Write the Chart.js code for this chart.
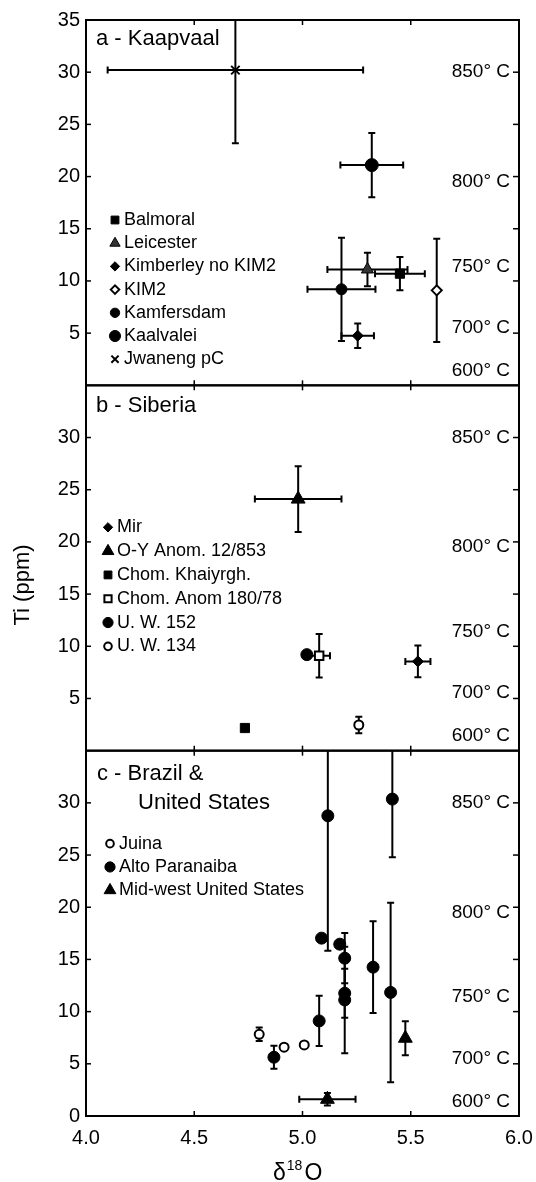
<!DOCTYPE html>
<html>
<head>
<meta charset="utf-8">
<script src="https://cdn.jsdelivr.net/npm/chart.js@4/dist/chart.umd.min.js"></script>
<style>
  html, body { margin: 0; padding: 0; background: #fff; }
  canvas { display: block; }
</style>
</head>
<body>
<canvas id="chart" width="536" height="1182"></canvas>
<script>
// Ti (ppm) vs d18O, three stacked panels sharing one x axis.

// --- axis ticks -----------------------------------------------------------
const X_TICKS = [4.0, 4.5, 5.0, 5.5, 6.0];
const Y_TICKS_A = [5, 10, 15, 20, 25, 30, 35];
const Y_TICKS_B = [5, 10, 15, 20, 25, 30];
const Y_TICKS_C = [0, 5, 10, 15, 20, 25, 30];
const MINOR_TICKS = [5, 10, 15, 20, 25, 30];

// temperature labels on the right edge and the Ti value they sit at
const TEMP_LABELS = ['850° C', '800° C', '750° C', '700° C', '600° C'];
const TEMP_TI = [30, 19.5, 11.4, 5.5, 1.4];

// --- a - Kaapvaal ---------------------------------------------------------
const balmoralX = [5.45],   balmoralTi = [10.7],   balmoralXErr = [0.115],  balmoralTiErr = [1.6];
const leicesterX = [5.30],  leicesterTi = [11.1],  leicesterXErr = [0.185], leicesterTiErr = [1.6];
const kimberleyX = [5.255], kimberleyTi = [4.75],  kimberleyXErr = [0.075], kimberleyTiErr = [1.17];
const kim2X = [5.62],       kim2Ti = [9.1],        kim2XErr = [0],          kim2TiErr = [4.95];
const kamfersdamX = [5.18], kamfersdamTi = [9.2],  kamfersdamXErr = [0.157], kamfersdamTiErr = [4.95];
const kaalvaleiX = [5.32],  kaalvaleiTi = [21.1],  kaalvaleiXErr = [0.145], kaalvaleiTiErr = [3.07];
const jwanengX = [4.69],    jwanengTi = [30.2],    jwanengXErr = [0.59],    jwanengTiErr = [7.0];

// --- b - Siberia ----------------------------------------------------------
const mirX = [5.533],     mirTi = [8.55],     mirXErr = [0.058],    mirTiErr = [1.52];
const oyX = [4.98],       oyTi = [24.1],      oyXErr = [0.2],       oyTiErr = [3.15];
const chomKhX = [4.734],  chomKhTi = [2.17],  chomKhXErr = [0],     chomKhTiErr = [0];
const chomAnX = [5.077],  chomAnTi = [9.1],   chomAnXErr = [0.05],  chomAnTiErr = [2.08];
const uw152X = [5.02],    uw152Ti = [9.2],    uw152XErr = [0],      uw152TiErr = [0];
const uw134X = [5.26],    uw134Ti = [2.46],   uw134XErr = [0],      uw134TiErr = [0.8];

// --- c - Brazil & United States -------------------------------------------
const juinaX = [4.80, 4.915, 5.008];
const juinaTi = [7.83, 6.59, 6.81];
const juinaTiErr = [0.65, 0, 0];
const altoX = [4.868, 5.077, 5.088, 5.117, 5.172, 5.195, 5.195, 5.195, 5.326, 5.415, 5.407];
const altoTi = [5.63, 9.11, 17.04, 28.76, 16.46, 15.12, 11.76, 11.12, 14.26, 30.36, 11.84];
const altoTiErr = [1.1, 2.4, 0, 12.94, 0, 2.4, 2.35, 5.1, 4.4, 5.56, 8.6];
const midwestX = [5.475, 5.115];
const midwestTi = [7.45, 1.6];
const midwestXErr = [0, 0.13];
const midwestTiErr = [1.63, 0.6];

const FONT = '"Liberation Sans", Arial, Helvetica, sans-serif';
Chart.defaults.font.family = FONT;
Chart.defaults.color = '#000';

const zeros = n => new Array(n).fill(0);

function series(label, axis, xs, ys, xErr, yErr, shape, radius, fill, borderWidth) {
    return {
        label,
        yAxisID: axis,
        data: xs.map((x, i) => ({ x, y: ys[i] })),
        errX: xErr,
        errY: yErr,
        pointStyle: shape,
        pointRadius: radius,
        pointBackgroundColor: fill,
        pointBorderColor: '#000',
        pointBorderWidth: borderWidth
    };
}

const datasets = [
    series('Balmoral', 'yA', balmoralX, balmoralTi, balmoralXErr, balmoralTiErr, 'rect', 6.5, '#000', 1),
    series('Leicester', 'yA', leicesterX, leicesterTi, leicesterXErr, leicesterTiErr, 'triangle', 7, '#333', 1),
    series('Kimberley no KIM2', 'yA', kimberleyX, kimberleyTi, kimberleyXErr, kimberleyTiErr, 'rectRot', 5.5, '#000', 1),
    series('KIM2', 'yA', kim2X, kim2Ti, kim2XErr, kim2TiErr, 'rectRot', 5, '#fff', 2),
    series('Kamfersdam', 'yA', kamfersdamX, kamfersdamTi, kamfersdamXErr, kamfersdamTiErr, 'circle', 5.5, '#000', 1),
    series('Kaalvalei', 'yA', kaalvaleiX, kaalvaleiTi, kaalvaleiXErr, kaalvaleiTiErr, 'circle', 6.5, '#000', 1),
    series('Jwaneng pC', 'yA', jwanengX, jwanengTi, jwanengXErr, jwanengTiErr, 'crossRot', 6, '#000', 2),

    series('Mir', 'yB', mirX, mirTi, mirXErr, mirTiErr, 'rectRot', 5.5, '#000', 1),
    series('O-Y Anom. 12/853', 'yB', oyX, oyTi, oyXErr, oyTiErr, 'triangle', 8, '#000', 1),
    series('Chom. Khaiyrgh.', 'yB', chomKhX, chomKhTi, chomKhXErr, chomKhTiErr, 'rect', 6.5, '#000', 1),
    series('Chom. Anom 180/78', 'yB', chomAnX, chomAnTi, chomAnXErr, chomAnTiErr, 'rect', 6, '#fff', 2),
    series('U. W. 152', 'yB', uw152X, uw152Ti, uw152XErr, uw152TiErr, 'circle', 6, '#000', 1),
    series('U. W. 134', 'yB', uw134X, uw134Ti, uw134XErr, uw134TiErr, 'circle', 4.5, '#fff', 2),

    series('Juina', 'yC', juinaX, juinaTi, zeros(juinaX.length), juinaTiErr, 'circle', 4.5, '#fff', 2),
    series('Alto Paranaiba', 'yC', altoX, altoTi, zeros(altoX.length), altoTiErr, 'circle', 6, '#000', 1),
    series('Mid-west United States', 'yC', midwestX, midwestTi, midwestXErr, midwestTiErr, 'triangle', 8, '#000', 1)
];

// panel decorations (positions are offsets from each panel's top)
const PANELS = {
    yA: { titles: [['a - Kaapvaal', 96, 19]], legendX: 115, legendY: 200, legendStep: 23.2 },
    yB: { titles: [['b - Siberia', 96, 21]], legendX: 108, legendY: 142, legendStep: 23.8 },
    yC: { titles: [['c - Brazil &', 97, 23], ['United States', 138, 52]], legendX: 110, legendY: 93, legendStep: 23.3 }
};

function yAxis(ticks) {
    return {
        type: 'linear',
        position: 'left',
        stack: 'ti',
        stackWeight: 1,
        min: 0,
        max: 35,
        afterBuildTicks: s => { s.ticks = ticks.map(v => ({ value: v })); },
        afterFit: s => { s.width = 86; s.paddingTop = 0; s.paddingBottom = 0; },
        ticks: { font: { size: 20 }, padding: 6, color: '#000' },
        grid: { drawOnChartArea: false, drawTicks: false },
        border: { display: false }
    };
}

function line(ctx, x1, y1, x2, y2) {
    ctx.beginPath();
    ctx.moveTo(x1, y1);
    ctx.lineTo(x2, y2);
    ctx.stroke();
}

const errorBars = {
    id: 'errorBars',
    beforeDatasetsDraw(chart) {
        const { ctx, chartArea } = chart;
        const xs = chart.scales.x;
        ctx.save();
        ctx.strokeStyle = '#000';
        ctx.lineWidth = 2;
        chart.data.datasets.forEach(ds => {
            const ys = chart.scales[ds.yAxisID];
            ctx.save();
            ctx.beginPath();
            ctx.rect(chartArea.left, ys.top, chartArea.right - chartArea.left, ys.bottom - ys.top);
            ctx.clip();
            ds.data.forEach((p, i) => {
                const px = xs.getPixelForValue(p.x);
                const py = ys.getPixelForValue(p.y);
                const ey = ds.errY[i];
                const ex = ds.errX[i];
                const cap = 3.5;
                if (ey > 0) {
                    const t = ys.getPixelForValue(p.y + ey);
                    const b = ys.getPixelForValue(p.y - ey);
                    line(ctx, px, t, px, b);
                    line(ctx, px - cap, t, px + cap, t);
                    line(ctx, px - cap, b, px + cap, b);
                }
                if (ex > 0) {
                    const l = xs.getPixelForValue(p.x - ex);
                    const r = xs.getPixelForValue(p.x + ex);
                    line(ctx, l, py, r, py);
                    line(ctx, l, py - cap, l, py + cap);
                    line(ctx, r, py - cap, r, py + cap);
                }
            });
            ctx.restore();
        });
        ctx.restore();
    }
};

const decorations = {
    id: 'decorations',
    afterDraw(chart) {
        const { ctx, chartArea } = chart;
        const xs = chart.scales.x;
        const L = chartArea.left, R = chartArea.right;
        ctx.save();
        ctx.strokeStyle = '#000';
        ctx.fillStyle = '#000';
        ctx.lineWidth = 2;

        Object.keys(PANELS).forEach(id => {
            const ys = chart.scales[id];
            const panel = PANELS[id];
            const top = ys.top, bottom = ys.bottom;

            // frame
            ctx.strokeRect(L, top, R - L, bottom - top);

            // inward tick marks
            ctx.lineWidth = 1.5;
            MINOR_TICKS.forEach(v => {
                const py = ys.getPixelForValue(v);
                line(ctx, L, py, L + 5, py);
                line(ctx, R, py, R - 6, py);
            });
            X_TICKS.slice(1, -1).forEach(v => {
                const px = xs.getPixelForValue(v);
                line(ctx, px, top, px, top + 5);
                line(ctx, px, bottom, px, bottom - 5);
            });
            ctx.lineWidth = 2;

            // temperature labels
            ctx.font = '19px ' + FONT;
            ctx.textAlign = 'right';
            ctx.textBaseline = 'middle';
            TEMP_LABELS.forEach((t, i) => {
                ctx.fillText(t, R - 9, ys.getPixelForValue(TEMP_TI[i]));
            });

            // panel title
            ctx.textAlign = 'left';
            ctx.font = '22px ' + FONT;
            panel.titles.forEach(([txt, x, dy]) => ctx.fillText(txt, x, top + dy));

            // legend
            ctx.font = '18px ' + FONT;
            const items = chart.data.datasets.filter(ds => ds.yAxisID === id);
            items.forEach((ds, i) => {
                const y = top + panel.legendY + i * panel.legendStep;
                ctx.save();
                ctx.fillStyle = ds.pointBackgroundColor;
                ctx.strokeStyle = '#000';
                ctx.lineWidth = ds.pointBorderWidth;
                Chart.helpers.drawPoint(ctx, {
                    pointStyle: ds.pointStyle,
                    rotation: 0,
                    radius: ds.pointRadius * 0.85,
                    borderWidth: ds.pointBorderWidth
                }, panel.legendX, y);
                ctx.restore();
                ctx.fillText(ds.label, panel.legendX + 9, y);
            });
        });

        // y axis title
        const yb = chart.scales.yB;
        ctx.save();
        ctx.translate(23, (yb.top + yb.bottom) / 2 + 17);
        ctx.rotate(-Math.PI / 2);
        ctx.textAlign = 'center';
        ctx.textBaseline = 'middle';
        ctx.font = '22px ' + FONT;
        ctx.fillText('Ti (ppm)', 0, 0);
        ctx.restore();

        // x axis title: delta 18 O
        ctx.textAlign = 'left';
        ctx.textBaseline = 'alphabetic';
        let x = 273;
        const base = 1180;
        ctx.font = '23px ' + FONT;
        ctx.fillText('δ', x, base);
        x += ctx.measureText('δ').width + 1;
        ctx.font = '14px ' + FONT;
        ctx.fillText('18', x, base - 10);
        x += ctx.measureText('18').width + 2;
        ctx.font = '23px ' + FONT;
        ctx.fillText('O', x, base);
        ctx.restore();
    }
};

new Chart(document.getElementById('chart'), {
    type: 'scatter',
    data: { datasets },
    options: {
        responsive: false,
        animation: false,
        events: [],
        layout: { padding: { top: 20, right: 17, bottom: 0, left: 0 } },
        plugins: { legend: { display: false }, tooltip: { enabled: false } },
        scales: {
            x: {
                type: 'linear',
                min: 4,
                max: 6,
                afterBuildTicks: s => { s.ticks = X_TICKS.map(v => ({ value: v })); },
                afterFit: s => { s.height = 66; s.paddingLeft = 0; s.paddingRight = 0; },
                ticks: { font: { size: 20 }, padding: 10, color: '#000', callback: v => Number(v).toFixed(1) },
                grid: { drawOnChartArea: false, drawTicks: false },
                border: { display: false }
            },
            yC: yAxis(Y_TICKS_C),
            yB: yAxis(Y_TICKS_B),
            yA: yAxis(Y_TICKS_A)
        }
    },
    plugins: [errorBars, decorations]
});
</script>
</body>
</html>
